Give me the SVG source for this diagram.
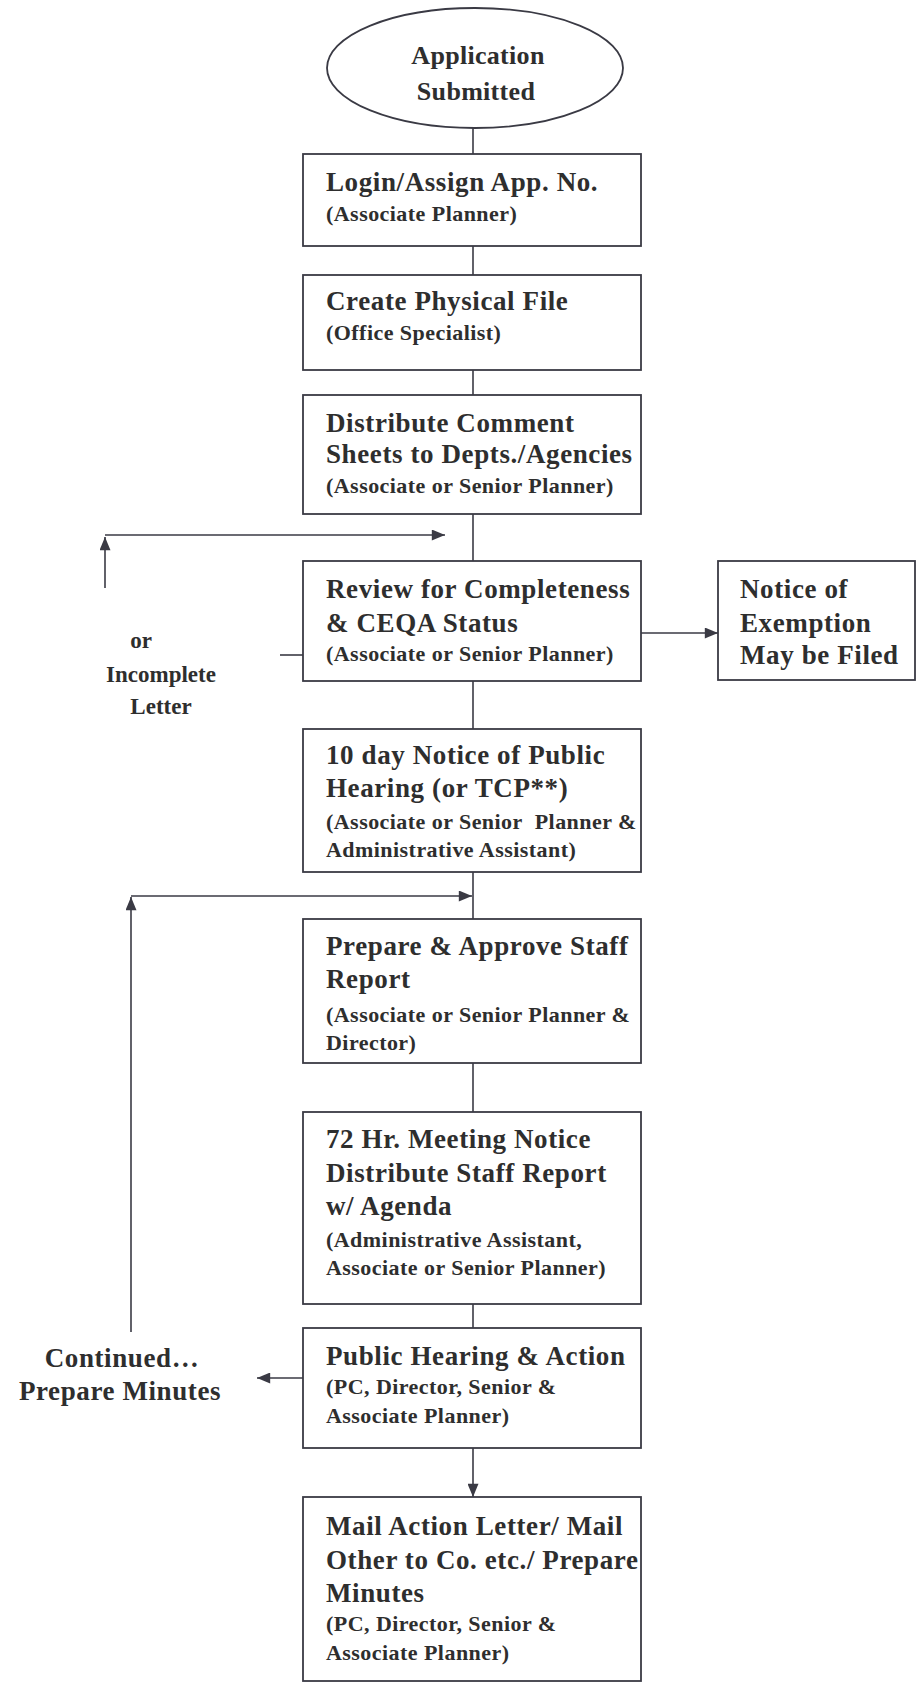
<svg xmlns="http://www.w3.org/2000/svg" width="917" height="1684" viewBox="0 0 917 1684">
<style>
.box{fill:#fff;stroke:#3a3a44;stroke-width:1.8}
.ln{fill:none;stroke:#3a3a44;stroke-width:1.6}
.t{font-family:"Liberation Serif","Times New Roman",serif;font-weight:bold;font-size:27px;letter-spacing:0.6px;fill:#2e2e2e}
.s{font-family:"Liberation Serif","Times New Roman",serif;font-weight:bold;font-size:22px;letter-spacing:0.45px;fill:#2e2e2e}
.e{font-size:26px;letter-spacing:0.3px}
.side{font-size:23px;letter-spacing:0px}
.m{text-anchor:middle}
</style>
<defs>
<marker id="ah" viewBox="0 0 12 10" refX="12" refY="5" markerWidth="14" markerHeight="11" markerUnits="userSpaceOnUse" orient="auto">
<path d="M0,0 L12,5 L0,10 Z" fill="#3a3a44"/>
</marker>
</defs>
<g id="connectors">
<line class="ln" x1="473" y1="128" x2="473" y2="154"/>
<line class="ln" x1="473" y1="246" x2="473" y2="275"/>
<line class="ln" x1="473" y1="370" x2="473" y2="395"/>
<line class="ln" x1="473" y1="514" x2="473" y2="561"/>
<line class="ln" x1="105" y1="588" x2="105" y2="537" marker-end="url(#ah)"/>
<line class="ln" x1="105" y1="535" x2="445" y2="535" marker-end="url(#ah)"/>
<line class="ln" x1="641" y1="633" x2="718" y2="633" marker-end="url(#ah)"/>
<line class="ln" x1="280" y1="655" x2="303" y2="655"/>
<line class="ln" x1="473" y1="681" x2="473" y2="729"/>
<line class="ln" x1="473" y1="872" x2="473" y2="919"/>
<line class="ln" x1="131" y1="1332" x2="131" y2="897" marker-end="url(#ah)"/>
<line class="ln" x1="131" y1="896" x2="472" y2="896" marker-end="url(#ah)"/>
<line class="ln" x1="473" y1="1063" x2="473" y2="1112"/>
<line class="ln" x1="473" y1="1304" x2="473" y2="1328"/>
<line class="ln" x1="303" y1="1378" x2="257" y2="1378" marker-end="url(#ah)"/>
<line class="ln" x1="473" y1="1448" x2="473" y2="1497" marker-end="url(#ah)"/>
</g>
<g id="start">
<ellipse class="box" cx="475" cy="68" rx="148" ry="60"/>
<text class="t e m" x="478" y="64">Application</text>
<text class="t e m" x="476" y="100">Submitted</text>
</g>
<g id="login">
<rect class="box" x="303" y="154" width="338" height="92"/>
<text class="t" x="326" y="191">Login/Assign App. No.</text>
<text class="s" x="326" y="221">(Associate Planner)</text>
</g>
<g id="file">
<rect class="box" x="303" y="275" width="338" height="95"/>
<text class="t" x="326" y="310">Create Physical File</text>
<text class="s" x="326" y="340">(Office Specialist)</text>
</g>
<g id="distribute">
<rect class="box" x="303" y="395" width="338" height="119"/>
<text class="t" x="326" y="432">Distribute Comment</text>
<text class="t" x="326" y="463">Sheets to Depts./Agencies</text>
<text class="s" x="326" y="493">(Associate or Senior Planner)</text>
</g>
<g id="review">
<rect class="box" x="303" y="561" width="338" height="120"/>
<text class="t" x="326" y="598">Review for Completeness</text>
<text class="t" x="326" y="632">&amp; CEQA Status</text>
<text class="s" x="326" y="661">(Associate or Senior Planner)</text>
</g>
<g id="exemption">
<rect class="box" x="718" y="561" width="197" height="119"/>
<text class="t" x="740" y="598">Notice of</text>
<text class="t" x="740" y="632">Exemption</text>
<text class="t" x="740" y="664">May be Filed</text>
</g>
<g id="incomplete">
<text class="t side m" x="141" y="648">or</text>
<text class="t side m" x="161" y="682">Incomplete</text>
<text class="t side m" x="161" y="714">Letter</text>
</g>
<g id="notice">
<rect class="box" x="303" y="729" width="338" height="143"/>
<text class="t" x="326" y="764">10 day Notice of Public</text>
<text class="t" x="326" y="797">Hearing (or TCP**)</text>
<text class="s" x="326" y="829">(Associate or Senior&#160; Planner &amp;</text>
<text class="s" x="326" y="857">Administrative Assistant)</text>
</g>
<g id="staffreport">
<rect class="box" x="303" y="919" width="338" height="144"/>
<text class="t" x="326" y="955">Prepare &amp; Approve Staff</text>
<text class="t" x="326" y="988">Report</text>
<text class="s" x="326" y="1022">(Associate or Senior Planner &amp;</text>
<text class="s" x="326" y="1050">Director)</text>
</g>
<g id="meeting">
<rect class="box" x="303" y="1112" width="338" height="192"/>
<text class="t" x="326" y="1148">72 Hr. Meeting Notice</text>
<text class="t" x="326" y="1182">Distribute Staff Report</text>
<text class="t" x="326" y="1215">w/ Agenda</text>
<text class="s" x="326" y="1247">(Administrative Assistant,</text>
<text class="s" x="326" y="1275">Associate or Senior Planner)</text>
</g>
<g id="hearing">
<rect class="box" x="303" y="1328" width="338" height="120"/>
<text class="t" x="326" y="1365">Public Hearing &amp; Action</text>
<text class="s" x="326" y="1394">(PC, Director, Senior &amp;</text>
<text class="s" x="326" y="1423">Associate Planner)</text>
</g>
<g id="continued">
<text class="t m" x="122" y="1367">Continued…</text>
<text class="t m" x="120" y="1400">Prepare Minutes</text>
</g>
<g id="mail">
<rect class="box" x="303" y="1497" width="338" height="184"/>
<text class="t" x="326" y="1535">Mail Action Letter/ Mail</text>
<text class="t" x="326" y="1569">Other to Co. etc./ Prepare</text>
<text class="t" x="326" y="1602">Minutes</text>
<text class="s" x="326" y="1631">(PC, Director, Senior &amp;</text>
<text class="s" x="326" y="1660">Associate Planner)</text>
</g>
</svg>
